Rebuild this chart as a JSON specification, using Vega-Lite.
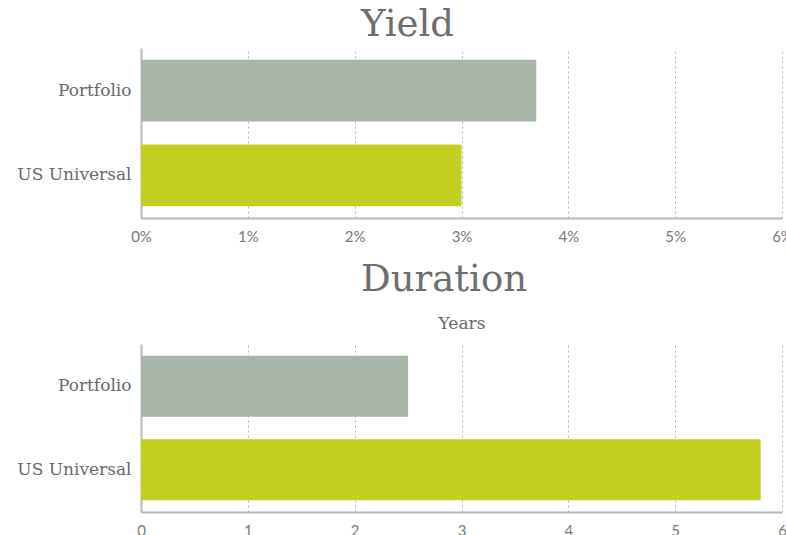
{
  "$schema": "https://vega.github.io/schema/vega-lite/v6.json",
  "padding": {"left": 5, "top": 6, "right": 0, "bottom": 0},
  "background": "white",
  "datasets": {
    "yield": [
      {"category": "Portfolio", "value": 3.7},
      {"category": "US Universal", "value": 3.0}
    ],
    "duration": [
      {"category": "Portfolio", "value": 2.5},
      {"category": "US Universal", "value": 5.8}
    ]
  },
  "config": {
    "view": {"stroke": null},
    "font": "DejaVu Serif",
    "title": {"font": "DejaVu Serif", "fontSize": 37, "fontWeight": "normal", "color": "#6e6e6e", "anchor": "start", "frame": "group", "dx": 220, "offset": 4},
    "axisX": {
      "domainColor": "#b3bcb3", "domainWidth": 2, "ticks": false,
      "grid": true, "gridColor": "#b5b5b5", "gridDash": [2, 3], "gridWidth": 1,
      "labelFont": "Lato", "labelFontSize": 15, "labelColor": "#7a7a7a", "labelPadding": 11,
      "labelFlush": false, "labelOverlap": false
    },
    "axisY": {
      "domainColor": "#b3bcb3", "domainWidth": 2, "ticks": false, "grid": false,
      "labelFont": "DejaVu Serif", "labelFontSize": 17, "labelColor": "#6a6a6a", "labelPadding": 10,
      "minExtent": 136, "maxExtent": 136, "title": null
    }
  },
  "vconcat": [
    {
      "title": {"text": "Yield"},
      "width": 641,
      "height": 170,
      "data": {"name": "yield"},
      "mark": {"type": "bar"},
      "encoding": {
        "y": {"field": "category", "type": "nominal", "sort": ["Portfolio", "US Universal"],
              "scale": {"paddingInner": 0.27, "paddingOuter": 0.14}},
        "x": {"field": "value", "type": "quantitative", "scale": {"domain": [0, 6], "nice": false},
              "axis": {"title": null, "values": [0, 1, 2, 3, 4, 5, 6], "labelExpr": "datum.label + '%'"}},
        "color": {"field": "category", "type": "nominal", "legend": null,
                  "scale": {"domain": ["Portfolio", "US Universal"], "range": ["#aab5a9", "#c2cf21"]}}
      }
    },
    {
      "title": {"text": "Duration", "offset": 15},
      "width": 641,
      "height": 168,
      "data": {"name": "duration"},
      "encoding": {
        "y": {"field": "category", "type": "nominal", "sort": ["Portfolio", "US Universal"],
              "scale": {"paddingInner": 0.27, "paddingOuter": 0.14}}
      },
      "layer": [
        {
          "mark": {"type": "bar"},
          "encoding": {
            "x": {"field": "value", "type": "quantitative", "scale": {"domain": [0, 6], "nice": false},
                  "axis": {"title": null, "values": [0, 1, 2, 3, 4, 5, 6]}},
            "color": {"field": "category", "type": "nominal", "legend": null,
                      "scale": {"domain": ["Portfolio", "US Universal"], "range": ["#aab5a9", "#c2cf21"]}}
          }
        },
        {
          "mark": {"type": "bar", "opacity": 0},
          "encoding": {
            "x": {"field": "value", "type": "quantitative",
                  "axis": {"orient": "top", "title": "Years", "labels": false, "ticks": false, "domain": false, "grid": false,
                           "titleFont": "DejaVu Serif", "titleFontSize": 17, "titleFontWeight": "normal", "titleColor": "#6a6a6a", "titlePadding": 12}}
          }
        }
      ],
      "resolve": {"axis": {"x": "independent"}}
    }
  ],
  "spacing": 17
}
